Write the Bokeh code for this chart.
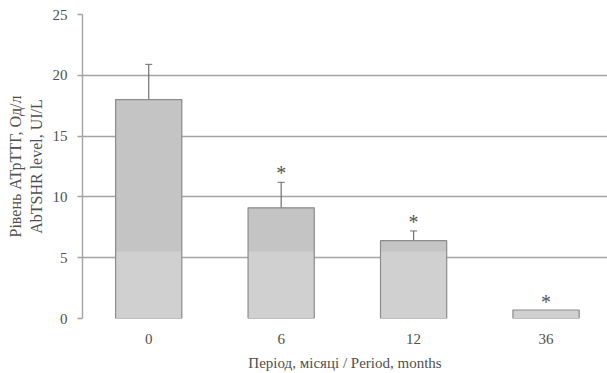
from bokeh.plotting import figure
from bokeh.models import ColumnDataSource, Range1d, FixedTicker, Whisker
from bokeh.embed import file_html
from bokeh.resources import INLINE
from bokeh.core.properties import value

periods = ["0", "6", "12", "36"]
means = [18.0, 9.1, 6.4, 0.7]
err_low = [15.0, 6.9, 5.6, 0.6]
err_high = [20.9, 11.2, 7.2, 0.65]
marks = ["", "*", "*", "*"]
y_ticks = [0, 5, 10, 15, 20, 25]

xs = list(range(len(periods)))
shade_split = 5.5

src = ColumnDataSource(dict(
    x=xs, top=means, lo=err_low, hi=err_high, mark=marks,
    split=[min(m, shade_split) for m in means],
))

p = figure(width=607, height=373, output_backend="svg", toolbar_location=None,
           x_range=Range1d(-0.5, 3.464), y_range=Range1d(0, 25),
           min_border_left=82, min_border_right=0, min_border_top=14, min_border_bottom=54)
p.outline_line_color = None
p.background_fill_color = "white"

# bars: lighter lower part, darker upper part
p.vbar(x="x", top="top", bottom=0, width=0.5, source=src,
       fill_color="#d0d0d0", line_color=None)
p.vbar(x="x", top="top", bottom="split", width=0.5, source=src,
       fill_color="#c4c4c4", line_color=None)
p.vbar(x="x", top="top", bottom=0, width=0.5, source=src,
       fill_color=None, line_color="#8c8c8c", line_width=1.2)

w = Whisker(base="x", upper="hi", lower="lo", source=src,
            line_color="#707070", line_width=1.2)
w.upper_head.size = 7
w.lower_head.size = 7
w.upper_head.line_color = "#707070"
w.lower_head.line_color = "#707070"
p.add_layout(w)

p.text(x="x", y="hi", text="mark", source=src, text_align="center",
       text_baseline="middle", y_offset=-9, text_font=value("Liberation Serif"),
       text_font_size="20px", text_color="#555555")

p.xgrid.grid_line_color = None
p.ygrid.grid_line_color = "#a4a4a4"
p.ygrid.grid_line_width = 1.4
p.ygrid.ticker = FixedTicker(ticks=y_ticks)

p.yaxis.ticker = FixedTicker(ticks=y_ticks)
p.yaxis.axis_line_color = "#a4a4a4"
p.yaxis.axis_line_width = 1.4
p.yaxis.major_tick_line_color = "#a4a4a4"
p.yaxis.major_tick_line_width = 1.4
p.yaxis.major_tick_out = 5
p.yaxis.major_tick_in = 0
p.yaxis.minor_tick_line_color = None
p.yaxis.major_label_standoff = 10
p.yaxis.axis_label = "Рівень АТрТТГ, Од/л\nAbTSHR level, UI/L"
p.yaxis.axis_label_standoff = 5

p.xaxis.ticker = FixedTicker(ticks=xs)
p.xaxis.major_label_overrides = {i: s for i, s in enumerate(periods)}
p.xaxis.axis_line_color = None
p.xaxis.major_tick_line_color = None
p.xaxis.minor_tick_line_color = None
p.xaxis.major_label_standoff = 9
p.xaxis.axis_label = "Період, місяці / Period, months"
p.xaxis.axis_label_standoff = 8

for ax in (p.xaxis, p.yaxis):
    ax.major_label_text_font = "Liberation Serif"
    ax.major_label_text_font_size = "15px"
    ax.major_label_text_color = "#505050"
    ax.axis_label_text_font = "Liberation Serif"
    ax.axis_label_text_font_size = "15px"
    ax.axis_label_text_font_style = "normal"
    ax.axis_label_text_color = "#505050"
p.yaxis.axis_label_text_font_size = "16px"

open("out.html", "w").write(file_html(p, INLINE))
